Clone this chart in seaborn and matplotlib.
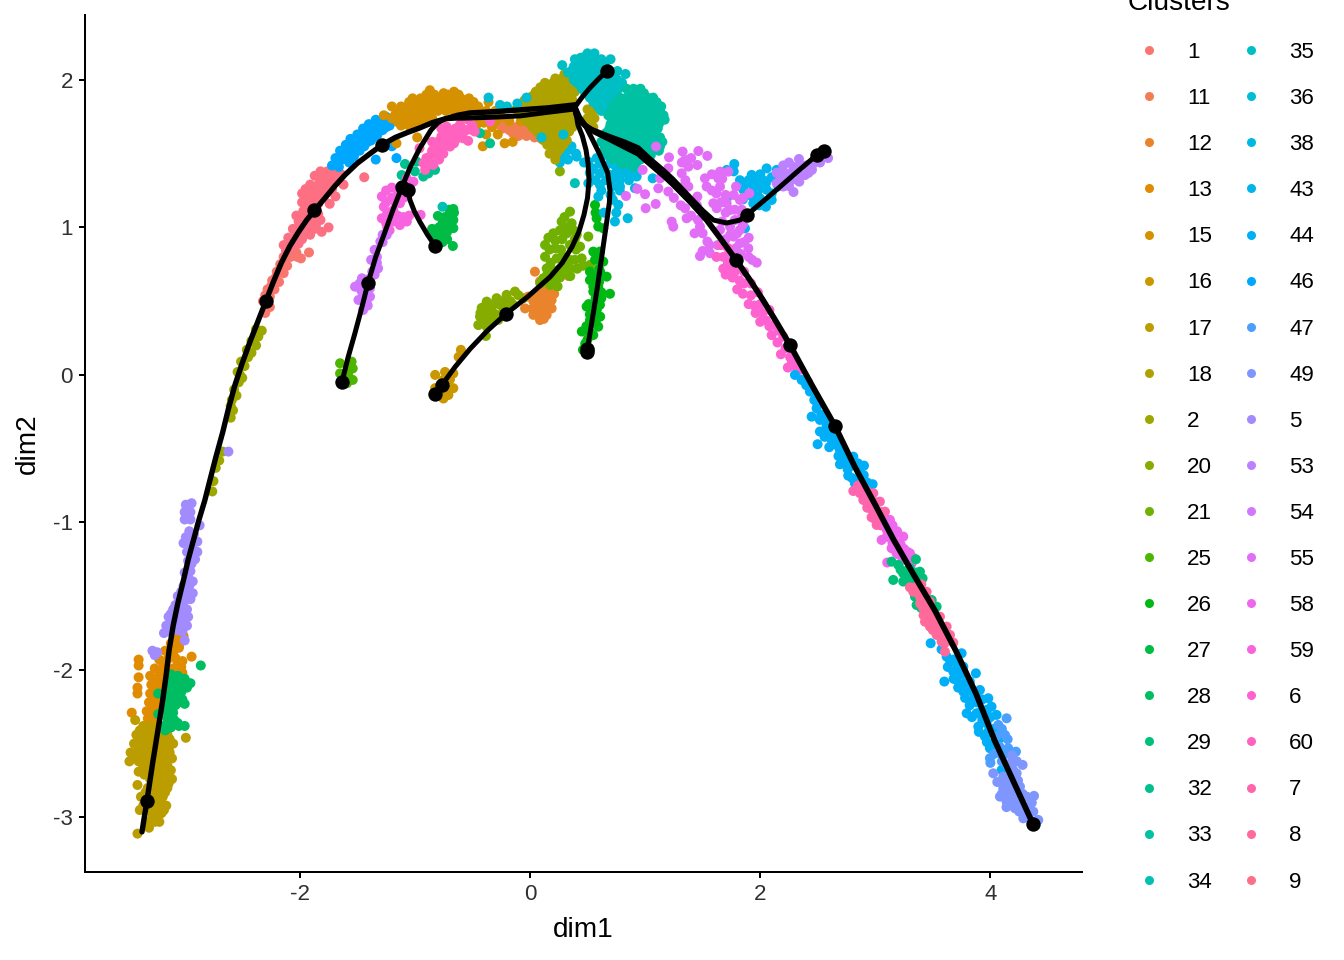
import numpy as np
import pandas as pd
import seaborn as sns
import matplotlib
matplotlib.use("Agg")
import matplotlib.pyplot as plt
from matplotlib.lines import Line2D

levels = ["1", "11", "12", "13", "15", "16", "17", "18", "2", "20", "21", "25", "26", "27", "28", "29", "32", "33", "34",
          "35", "36", "38", "43", "44", "46", "47", "49", "5", "53", "54", "55", "58", "59", "6", "60", "7", "8", "9"]

# cells per cluster as (dim1, dim2)
c1 = [(-2.30,.42),(-2.26,.46),(-2.32,.50),(-2.26,.53),(-2.28,.58),(-2.22,.58),(-2.24,.64),(-2.18,.63),(-2.20,.70),(-2.14,.69),
      (-2.17,.75),(-2.11,.74),(-2.14,.80),(-2.08,.80),(-2.02,.80),(-1.99,.79),(-1.92,.83),(-2.11,.86),(-2.05,.86),
      (-2.28,.47),(-2.30,.54),(-2.25,.60),(-2.21,.66),(-2.17,.72),(-2.13,.77),(-2.09,.83),(-2.03,.83)]
c11 = [(-.18,1.66),(-.12,1.68),(-.06,1.67),(0,1.66),(.06,1.66),(-.10,1.62),(-.03,1.62),(.04,1.61),(.10,1.60),(.16,1.59),
       (-.30,1.70),(.22,1.56),(.13,1.65),(.27,1.53),(-.24,1.67),(-.15,1.64),(-.08,1.65),(-.01,1.64),(.06,1.63),(.13,1.62),(.19,1.61),(-.2,1.7),(-.26,1.72)]
c12 = [(.043,.70),(.333,.671),(.087,.634),(.203,.599),(.145,.565),(.058,.531),(-.014,.531),(.188,.507),(.101,.497),(.029,.451),
       (.188,.451),(.101,.429),(.029,.407),(.145,.407),(.087,.372),(-.043,.451),(.174,.54),(.13,.6),(.17,.6),(.1,.55),(.14,.5),
       (.05,.47),(.15,.46),(.06,.5),(.03,.5),(.08,.44),(.12,.38),(.21,.55)]
c13 = [(-3.06,-1.78),(-3.12,-1.82),(-3.05,-1.85),(-3.17,-1.87),(-3.10,-1.88),(-3.22,-1.93),(-3.15,-1.93),(-3.08,-1.92),(-3.26,-1.99),
       (-3.18,-1.98),(-3.10,-1.99),(-3.03,-1.98),(-3.30,-2.04),(-3.22,-2.04),(-3.14,-2.05),(-3.06,-2.05),(-3.29,-2.10),(-3.22,-2.10),
       (-3.14,-2.11),(-3.07,-2.10),(-3.30,-2.16),(-3.23,-2.16),(-3.16,-2.17),(-3.31,-2.22),(-3.25,-2.22),(-3.18,-2.23),(-3.33,-2.28),
       (-3.27,-2.28),(-3.21,-2.28),(-3.32,-2.33),(-3.26,-2.34),(-3.40,-1.93),(-3.40,-1.97),(-3.40,-2.05),(-3.41,-2.12),(-3.41,-2.16),
       (-3.46,-2.29),(-3.01,-1.77),(-3.05,-1.84),(-2.94,-1.91),(-3.02,-1.94),(-3.02,-2.02),(-3.09,-1.84),(-3.13,-1.90),(-3.19,-1.95),
       (-3.06,-1.95),(-3.13,-2.01),(-3.2,-2.01),(-3.27,-2.07),(-3.19,-2.07),(-3.11,-2.08),(-3.26,-2.13),(-3.18,-2.13),(-3.27,-2.19),
       (-3.2,-2.19),(-3.28,-2.25),(-3.22,-2.25)]
c15 = [(-.90,1.90),(-.83,1.90),(-.71,1.90),(-.62,1.90),(-1.05,1.85),(-.98,1.85),(-.91,1.85),(-.84,1.85),(-.77,1.85),(-.70,1.85),
       (-.63,1.85),(-.56,1.85),(-.49,1.85),(-.36,1.85),(-1.20,1.82),(-1.12,1.82),(-1.27,1.76),(-1.15,1.79),(-1.08,1.79),(-1.01,1.79),
       (-.94,1.79),(-.87,1.79),(-.80,1.79),(-.73,1.79),(-.66,1.79),(-.59,1.79),(-.52,1.79),(-.45,1.79),(-.38,1.79),(-.30,1.79),
       (-1.20,1.74),(-1.13,1.74),(-1.06,1.74),(-.99,1.74),(-.92,1.74),(-.85,1.74),(-1.12,1.69),(-1.05,1.69),(-.98,1.69),(-.98,1.61),
       (-1.16,1.57),(-.41,1.55),(-.22,1.57),(-.15,1.58),(-.33,1.68),(-.28,1.63),(-.38,1.63),(-.50,1.66),(-.60,1.68),(-.18,1.72),(-.08,1.72),
       (-.87,1.93),(-.75,1.91),(-.66,1.92),(-.80,1.88),(-.94,1.82),(-.87,1.82),(-.80,1.82),(-.73,1.82),(-.66,1.82),(-.59,1.82),(-.52,1.82),
       (-.45,1.82),(-1.05,1.82),(-.44,1.75),(-.58,1.75),(-.35,1.74),(-.25,1.75),(-.46,1.70),(-.40,1.71),(-.30,1.72),
       (-1.02,1.875),(-.95,1.875),(-.88,1.875),(-.74,1.875),(-.67,1.875),(-.60,1.875),(-.53,1.875),(-1.17,1.765),(-1.10,1.765),(-1.03,1.765),
       (-.96,1.765),(-.89,1.765),(-1.15,1.715),(-1.08,1.715),(-1.02,1.715),(-.95,1.715),(-.88,1.715)]
c16 = [(-.6,.17),(-.62,.122),(-.824,0),(-.738,.02),(-.666,.01),(-.695,-.03),(-.666,-.09),(-.709,-.136),(-.752,-.16),(-.781,-.125),
       (-.824,-.09),(-.752,-.034)]
c17 = [(-3.36,-2.38),(-3.30,-2.38),(-3.24,-2.38),(-3.43,-2.34),(-3.42,-2.44),(-3.36,-2.44),(-3.29,-2.44),(-3.22,-2.44),(-3.15,-2.44),
       (-2.99,-2.46),(-3.44,-2.50),(-3.37,-2.50),(-3.31,-2.50),(-3.24,-2.50),(-3.16,-2.50),(-3.10,-2.50),(-3.47,-2.56),(-3.41,-2.56),
       (-3.34,-2.56),(-3.27,-2.56),(-3.20,-2.56),(-3.13,-2.56),(-3.48,-2.62),(-3.40,-2.62),(-3.33,-2.62),(-3.26,-2.62),(-3.19,-2.62),
       (-3.11,-2.60),(-3.40,-2.69),(-3.32,-2.68),(-3.25,-2.68),(-3.18,-2.68),(-3.12,-2.68),(-3.30,-2.74),(-3.24,-2.74),(-3.17,-2.74),
       (-3.11,-2.74),(-3.41,-2.78),(-3.32,-2.80),(-3.27,-2.80),(-3.22,-2.80),(-3.15,-2.80),(-3.38,-2.86),(-3.31,-2.86),(-3.25,-2.86),
       (-3.19,-2.86),(-3.36,-2.92),(-3.27,-2.92),(-3.21,-2.92),(-3.16,-2.92),(-3.39,-2.95),(-3.28,-2.98),(-3.22,-2.98),(-3.20,-2.97),
       (-3.31,-3.03),(-3.26,-3.03),(-3.22,-3.03),(-3.31,-3.07),(-3.41,-3.11),(-3.39,-2.41),(-3.33,-2.41),(-3.26,-2.41),(-3.19,-2.41),
       (-3.40,-2.47),(-3.33,-2.47),(-3.26,-2.47),(-3.19,-2.47),(-3.13,-2.47),(-3.40,-2.53),(-3.34,-2.53),(-3.27,-2.53),(-3.20,-2.53),(-3.14,-2.53),
       (-3.44,-2.59),(-3.37,-2.59),(-3.30,-2.59),(-3.23,-2.59),(-3.16,-2.59),(-3.36,-2.65),(-3.29,-2.65),(-3.22,-2.65),(-3.15,-2.65),
       (-3.35,-2.71),(-3.28,-2.71),(-3.21,-2.71),(-3.14,-2.71),(-3.27,-2.77),(-3.20,-2.77),(-3.14,-2.77),(-3.34,-2.83),(-3.28,-2.83),(-3.22,-2.83),
       (-3.17,-2.83),(-3.33,-2.89),(-3.27,-2.89),(-3.21,-2.89),(-3.29,-2.95),(-3.24,-2.95),(-3.18,-2.95),(-3.28,-3.0),(-3.24,-3.0)]
c18 = [(.30,2.04),(.13,1.98),(.20,1.98),(.27,1.98),(.33,1.98),(.05,1.92),(.12,1.92),(.19,1.92),(.26,1.92),(.33,1.92),(.39,1.92),
       (-.05,1.86),(.02,1.86),(.09,1.86),(.16,1.86),(.23,1.86),(.30,1.86),(.37,1.86),(-.12,1.80),(-.05,1.80),(.02,1.80),(.09,1.80),
       (.16,1.80),(.23,1.80),(.30,1.80),(.37,1.80),(.50,1.80),(.56,1.80),(-.05,1.74),(.02,1.74),(.09,1.74),(.16,1.74),(.23,1.74),
       (.30,1.74),(.37,1.74),(.50,1.74),(.56,1.74),(.02,1.68),(.09,1.68),(.16,1.68),(.23,1.68),(.30,1.68),(.37,1.68),(.55,1.68),
       (.09,1.62),(.15,1.62),(.22,1.62),(.29,1.62),(.15,1.56),(.22,1.56),(.29,1.56),(.17,1.50),(.23,1.50),(.22,1.46),
       (.22,2.01),(.28,2.01),(.33,2.02),(.09,1.95),(.16,1.95),(.23,1.95),(.30,1.95),(.36,1.95),(.02,1.89),(.09,1.89),(.16,1.89),(.23,1.89),
       (.30,1.89),(.36,1.89),(-.08,1.83),(-.01,1.83),(.06,1.83),(.13,1.83),(.20,1.83),(.27,1.83),(.34,1.83),(-.08,1.77),(-.01,1.77),(.06,1.77),
       (.13,1.77),(.20,1.77),(.27,1.77),(.34,1.77),(.53,1.77),(-.01,1.71),(.06,1.71),(.13,1.71),(.20,1.71),(.27,1.71),(.34,1.71),(.53,1.71),
       (.06,1.65),(.13,1.65),(.20,1.65),(.27,1.65),(.34,1.65),(.12,1.59),(.19,1.59),(.26,1.59),(.32,1.59),(.2,1.53),(.26,1.53)]
c2 = [(-2.67,-.52),(-2.70,-.58),(-2.73,-.63),(-2.75,-.72),(-2.76,-.79),(-2.60,-.29),(-2.58,-.24),(-2.60,-.21),(-2.55,-.14),(-2.57,-.10),
      (-2.53,-.05),(-2.50,-.02),(-2.54,.02),(-2.48,.06),(-2.51,.09),(-2.45,.12),(-2.42,.15),(-2.46,.17),(-2.38,.20),(-2.42,.23),
      (-2.36,.26),(-2.33,.30),(-2.38,.31),(-2.59,-.17),(-2.52,0)]
c20 = [(-.13,.565),(-.203,.543),(-.29,.52),(-.058,.52),(-.376,.497),(-.26,.475),(-.145,.475),(-.42,.454),(-.333,.44),(-.232,.43),
       (-.434,.395),(-.347,.384),(-.275,.373),(-.449,.338),(-.376,.327),(-.383,.264),(.26,1.38),(-.1,.54),(-.17,.5),(-.24,.5),(-.32,.48),
       (-.4,.46),(-.38,.42),(-.3,.41),(-.41,.36),(-.32,.36),(-.4,.4),(-.2,.46),(-.43,.42)]
c21 = [(.348,1.107),(.275,1.04),(.362,1.028),(.203,.96),(.319,.96),(.406,.949),(.131,.881),(.218,.859),(.348,.881),(.435,.87),
       (.131,.801),(.232,.79),(.348,.779),(.449,.79),(.521,.746),(.145,.722),(.246,.711),(.348,.722),(.116,.655),(.203,.655),
       (.29,.689),(.174,.61),(.507,.938),(.3,1.07),(.33,1.0),(.26,.98),(.38,.98),(.28,.92),(.22,.91),(.16,.93),(.39,.92),(.17,.85),
       (.27,.85),(.4,.85),(.18,.76),(.29,.8),(.39,.78),(.18,.72),(.3,.75),(.41,.72),(.26,.66),(.15,.68),(.35,.67),(.09,.62),(.22,.7),(.24,.6),(.46,.74)]
c25 = [(-1.65,.079),(-1.55,.09),(-1.54,.044),(-1.65,.01),(-1.58,.01),(-1.54,-.034),(-1.59,-.056),(.027,.451)]
c26 = [(.579,1.062),(.565,1.152),(.593,1.006),(.637,.994),(.55,.836),(.608,.836),(.565,.78),(.637,.768),(.521,.70),(.579,.666),
       (.666,.666),(.521,.643),(.593,.598),(.695,.55),(.55,.565),(.492,.463),(.608,.475),(.55,.418),(.61,.395),(.521,.37),(.593,.327),
       (.45,.294),(.55,.27),(.48,.212),(.52,.17),(.46,.17),(.57,1.1),(.59,.8),(.6,.72),(.54,.67),(.6,.63),(.55,.6),(.62,.56),(.57,.52),
       (.62,.52),(.51,.48),(.58,.44),(.52,.41),(.57,.36),(.49,.33),(.52,.29),(.5,.24),(.58,.8),(.61,.7)]
c27 = [(-.666,1.125),(-.80,1.078),(-.70,1.085),(-.76,1.03),(-.666,1.05),(-.85,.99),(-.753,.973),(-.666,.995),(-.82,.94),(-.753,.94),
       (-.67,.874),(-.81,.89),(-.72,1.03),(-.72,.97),(-.79,1.0),(-.72,.92),(-.76,.9),(-.7,1.12),(-.74,1.07),(-.66,1.10),(-.84,.95),(-.79,.92)]
c28 = [(-2.86,-1.97),(-3.12,-2.03),(-3.06,-2.04),(-3.00,-2.06),(-3.14,-2.09),(-3.08,-2.09),(-3.01,-2.10),(-2.95,-2.09),(-3.15,-2.13),
       (-3.09,-2.14),(-3.03,-2.15),(-3.23,-2.16),(-3.14,-2.18),(-3.08,-2.19),(-3.02,-2.20),(-3.14,-2.23),(-3.08,-2.24),(-3.00,-2.23),
       (-3.23,-2.30),(-3.16,-2.28),(-3.10,-2.29),(-3.15,-2.33),(-3.09,-2.34),(-3.18,-2.38),(-3.12,-2.39),(-3.05,-2.38),(-3.00,-2.38),(-3.17,-2.41),
       (-3.1,-2.06),(-3.04,-2.07),(-3.11,-2.11),(-3.05,-2.12),(-2.98,-2.12),(-3.11,-2.16),(-3.05,-2.17),(-3.11,-2.21),(-3.05,-2.22),(-3.11,-2.26),
       (-3.13,-2.31),(-3.12,-2.36),(-3.06,-2.36),(-3.15,-2.36)]
c29 = [(3.156,-1.39),(3.142,-1.266),(3.2,-1.288),(3.353,-1.25),(3.243,-1.345),(3.243,-1.401),(3.287,-1.367),(3.388,-1.334),(3.411,-1.379),
       (3.345,-1.503),(3.359,-1.56),(3.533,-1.571),(3.49,-1.526),(3.3,-1.31),(3.27,-1.33),(3.35,-1.34),(3.3,-1.4),(3.38,-1.39),(3.37,-1.52),
       (3.4,-1.58),(3.45,-1.52),(3.22,-1.32)]
c32 = [(-1.086,1.43),(-1.115,1.355),(-.985,1.446),(-.927,1.345),(-.825,1.39),(-.883,1.366),(-1.0,1.38),(-.434,1.639),(-.347,1.57)]
c33 = [(.84,1.94),(.90,1.94),(.96,1.94),(.78,1.88),(.84,1.88),(.90,1.88),(.96,1.88),(1.02,1.88),(1.07,1.88),(.72,1.82),(.78,1.82),
       (.84,1.82),(.90,1.82),(.96,1.82),(1.02,1.82),(1.08,1.82),(1.14,1.82),(.68,1.76),(.74,1.76),(.80,1.76),(.86,1.76),(.92,1.76),
       (.98,1.76),(1.04,1.76),(1.10,1.76),(1.16,1.76),(.70,1.70),(.76,1.70),(.82,1.70),(.88,1.70),(.94,1.70),(1.00,1.70),(1.06,1.70),
       (1.12,1.70),(.66,1.64),(.72,1.64),(.78,1.64),(.84,1.64),(.90,1.64),(.96,1.64),(1.02,1.64),(1.08,1.64),(.62,1.58),(.68,1.58),
       (.74,1.58),(.80,1.58),(.86,1.58),(.92,1.58),(.98,1.58),(1.04,1.58),(1.10,1.58),(1.15,1.58),(.64,1.52),(.70,1.52),(.76,1.52),
       (.82,1.52),(.88,1.52),(.94,1.52),(1.00,1.52),(1.06,1.52),(1.12,1.52),(.72,1.46),(.78,1.46),(.84,1.46),(.90,1.46),(.96,1.46),(.90,1.41),
       (.87,1.91),(.93,1.91),(.99,1.91),(.75,1.85),(.81,1.85),(.87,1.85),(.93,1.85),(.99,1.85),(1.05,1.85),(1.1,1.85),(.71,1.79),(.77,1.79),
       (.83,1.79),(.89,1.79),(.95,1.79),(1.01,1.79),(1.07,1.79),(1.13,1.79),(.71,1.73),(.77,1.73),(.83,1.73),(.89,1.73),(.95,1.73),(1.01,1.73),
       (1.07,1.73),(1.13,1.73),(1.17,1.73),(.69,1.67),(.75,1.67),(.81,1.67),(.87,1.67),(.93,1.67),(.99,1.67),(1.05,1.67),(1.11,1.67),(.65,1.61),
       (.71,1.61),(.77,1.61),(.83,1.61),(.89,1.61),(.95,1.61),(1.01,1.61),(1.07,1.61),(1.13,1.61),(.65,1.55),(.71,1.55),(.77,1.55),(.83,1.55),
       (.89,1.55),(.95,1.55),(1.01,1.55),(1.07,1.55),(1.13,1.55),(.69,1.49),(.75,1.49),(.81,1.49),(.87,1.49),(.93,1.49),(.99,1.49),(1.05,1.49),
       (.8,1.43),(.86,1.43),(.92,1.43)]
c34 = [(-.76,1.14),(.39,1.30)]
c35 = [(.50,2.18),(.56,2.18),(.44,2.15),(.39,2.14),(.50,2.13),(.56,2.13),(.62,2.14),(.70,2.14),(.28,2.10),(.38,2.09),(.44,2.09),(.50,2.08),
       (.56,2.08),(.62,2.09),(.33,2.05),(.39,2.04),(.45,2.03),(.52,2.03),(.58,2.03),(.64,2.03),(.72,2.05),(.83,2.04),(.41,1.98),(.47,1.97),
       (.54,1.97),(.60,1.97),(.66,1.98),(.73,1.99),(.80,1.98),(.48,1.91),(.55,1.91),(.61,1.91),(.67,1.92),(.74,1.93),(.55,1.85),(.62,1.85),
       (.68,1.86),(.74,1.87),(.62,1.79),(.68,1.80),(.74,1.80),(.53,2.155),(.47,2.155),(.41,2.11),(.47,2.11),(.53,2.11),(.59,2.11),(.65,2.11),
       (.36,2.06),(.42,2.06),(.48,2.06),(.54,2.06),(.60,2.06),(.66,2.06),(.76,2.06),(.38,2.0),(.44,2.0),(.50,2.0),(.56,2.0),(.62,2.0),(.68,2.0),
       (.76,2.0),(.45,1.94),(.51,1.94),(.58,1.94),(.64,1.94),(.70,1.94),(.77,1.94),(.52,1.88),(.58,1.88),(.65,1.88),(.71,1.88),(.77,1.88),
       (.59,1.82),(.65,1.82),(.71,1.82)]
c36 = [(-.36,1.88),(-.26,1.83),(-.20,1.82),(-.11,1.84),(-.03,1.88),(.10,1.61),(.29,1.63)]
c38 = [(.333,1.525),(.406,1.48),(.29,1.491),(.507,1.446),(.608,1.435),(.695,1.435),(.753,1.378),(.84,1.367),(.927,1.345),(.912,1.266),
       (.782,1.277),(.71,1.277),(.608,1.288),(.594,1.209),(.507,1.299),(.767,1.153),(.738,1.04),(.643,1.10),(.849,1.062),(1.066,1.333),
       (.608,1.367),(.695,1.356),(.782,1.322),(.666,1.491),(.898,1.412),(.811,1.424),(.72,1.187),(.36,1.69),(.26,1.44),(.36,1.55),(.40,1.50),
       (.33,1.46),(.55,1.40),(.65,1.4),(.74,1.42),(.78,1.38),(.66,1.32),(.74,1.33),(.62,1.25),(.7,1.22),(.78,1.25),(.86,1.32),(.9,1.37),
       (.84,1.41),(.57,1.32),(.58,1.47),(.47,1.44),(.75,1.1),(.52,1.37)]
c43 = [(1.775,1.43),(1.71,1.39),(1.824,1.32),(1.926,1.356),(2.056,1.40),(2.143,1.39),(2.027,1.32),(1.94,1.278),(1.854,1.255),(2.056,1.255),
       (2.157,1.278),(1.998,1.197),(2.10,1.186),(1.94,1.163),(1.868,.994),(1.71,1.197),(2.0,1.36),(2.1,1.34),(1.88,1.3),(1.98,1.25),(2.05,1.3),
       (1.93,1.21),(1.9,1.32),(2.0,1.28),(2.1,1.23),(2.18,1.33),(1.95,1.32),(1.85,1.19),(1.99,1.15),(2.05,1.14),(1.77,1.38)]
c44 = [(2.302,0),(2.36,-.034),(2.432,-.113),(2.49,-.226),(2.447,-.283),(2.519,-.305),(2.519,-.384),(2.577,-.35),(2.499,-.47),(2.62,-.441),
       (2.693,-.509),(2.693,-.606),(2.809,-.554),(2.765,-.683),(2.902,-.615),(2.867,-.656),(2.977,-.741),(2.823,-.735),(2.722,-.588),
       (2.664,-.475),(3.481,-1.819),(3.576,-1.86),(3.75,-1.887),(3.62,-1.91),(3.707,-1.955),(3.765,-1.978),(3.678,-2.012),(3.874,-2.023),
       (3.6,-2.079),(3.707,-2.068),(3.822,-2.079),(3.765,-2.147),(3.909,-2.136),(3.851,-2.204),(3.982,-2.192),(3.794,-2.294),(3.88,-2.294),
       (4.01,-2.249),(4.054,-2.305),(3.895,-2.384),(3.967,-2.362),(3.953,-2.452),(4.083,-2.463),(3.996,-2.531),(4.098,-2.678),
       (2.4,-.07),(2.47,-.17),(2.53,-.27),(2.56,-.31),(2.6,-.38),(2.56,-.42),(2.6,-.49),(2.66,-.42),(2.68,-.55),(2.72,-.5),(2.74,-.55),(2.78,-.62),
       (2.8,-.7),(2.86,-.72),(2.76,-.64),(2.85,-.6),(2.9,-.68),(2.93,-.73),(2.78,-.58),(3.65,-1.94),(3.68,-1.93),(3.63,-1.98),(3.72,-2.02),
       (3.75,-2.03),(3.68,-2.06),(3.78,-2.09),(3.72,-2.12),(3.83,-2.14),(3.78,-2.19),(3.85,-2.15),(3.88,-2.22),(3.93,-2.2),(3.82,-2.24),
       (3.92,-2.28),(3.97,-2.27),(3.84,-2.32),(3.93,-2.34),(4.0,-2.32),(3.9,-2.42),(3.98,-2.42),(4.03,-2.4),(4.03,-2.5),(3.97,-2.49)]
c46 = [(-1.72,1.42),(-1.66,1.41),(-1.69,1.47),(-1.63,1.46),(-1.57,1.44),(-1.65,1.52),(-1.59,1.50),(-1.53,1.48),(-1.60,1.56),(-1.54,1.54),
       (-1.48,1.52),(-1.56,1.60),(-1.50,1.58),(-1.44,1.55),(-1.50,1.63),(-1.44,1.61),(-1.38,1.59),(-1.45,1.67),(-1.39,1.65),(-1.33,1.62),
       (-1.40,1.70),(-1.34,1.69),(-1.28,1.66),(-1.34,1.73),(-1.28,1.72),(-1.22,1.69),(-1.25,1.75),(-1.19,1.72),(-1.34,1.46),(-1.16,1.47),(-1.20,1.55),
       (-1.62,1.49),(-1.56,1.47),(-1.58,1.53),(-1.52,1.51),(-1.53,1.57),(-1.47,1.55),(-1.47,1.60),(-1.41,1.58),(-1.42,1.64),(-1.36,1.61),
       (-1.37,1.68),(-1.31,1.65),(-1.30,1.69),(-1.25,1.68)]
c47 = [(4.069,-2.373),(4.141,-2.328),(4.127,-2.441),(4.155,-2.531),(4.222,-2.554),(3.996,-2.599),(4.083,-2.565),(4.1,-2.4),(4.05,-2.45),
       (4.08,-2.52),(4.15,-2.47),(4.03,-2.57),(4.13,-2.57),(4.0,-2.63),(4.1,-2.62)]
c49 = [(4.025,-2.701),(4.185,-2.622),(4.28,-2.644),(4.112,-2.723),(4.228,-2.701),(4.083,-2.859),(4.155,-2.791),(4.257,-2.791),(4.199,-2.859),
       (4.315,-2.859),(4.379,-2.854),(4.141,-2.893),(4.213,-2.938),(4.315,-2.927),(4.373,-2.961),(4.416,-3.017),(4.286,-3.006),(4.112,-2.803),
       (4.15,-2.65),(4.2,-2.68),(4.12,-2.76),(4.18,-2.74),(4.24,-2.75),(4.1,-2.84),(4.16,-2.84),(4.22,-2.82),(4.28,-2.84),(4.14,-2.93),
       (4.2,-2.9),(4.26,-2.9),(4.3,-2.95),(4.25,-2.96),(4.33,-3.0),(4.37,-3.03),(4.36,-2.9),(4.06,-2.76),(4.23,-2.62),(4.19,-2.58)]
c5 = [(-2.62,-.52),(-2.99,-.88),(-2.94,-.87),(-3.00,-.93),(-2.95,-.93),(-3.00,-.98),(-2.95,-.98),(-2.87,-1.02),(-2.96,-1.06),(-3.01,-1.14),
      (-2.95,-1.14),(-2.89,-1.13),(-2.98,-1.20),(-2.92,-1.19),(-2.89,-1.20),(-2.97,-1.26),(-2.91,-1.25),(-3.00,-1.34),(-2.95,-1.33),(-2.93,-1.40),
      (-2.99,-1.40),(-3.03,-1.47),(-2.97,-1.46),(-2.93,-1.48),(-3.05,-1.53),(-3.00,-1.53),(-2.95,-1.52),(-3.10,-1.59),(-3.04,-1.59),(-2.98,-1.59),
      (-3.14,-1.64),(-3.08,-1.65),(-3.02,-1.65),(-2.97,-1.64),(-3.16,-1.70),(-3.10,-1.70),(-3.04,-1.71),(-2.98,-1.70),(-3.18,-1.75),(-3.13,-1.74),
      (-3.00,-1.80),(-3.28,-1.87),(-3.24,-1.88),(-3.26,-1.90),(-2.97,-.90),(-2.92,-1.08),(-2.99,-1.10),(-2.94,-1.28),(-2.97,-1.37),(-3.01,-1.43),
      (-2.96,-1.43),(-3.06,-1.50),(-3.01,-1.50),(-2.97,-1.50),(-3.08,-1.56),(-3.02,-1.56),(-3.12,-1.62),(-3.06,-1.62),(-3.00,-1.62),(-3.12,-1.67),
      (-3.06,-1.68),(-3.00,-1.68),(-3.15,-1.72),(-3.07,-1.73),(-3.02,-1.74)]
c53 = [(2.337,1.464),(2.2,1.42),(2.29,1.41),(2.40,1.42),(2.59,1.47),(2.5,1.48),(2.143,1.30),(2.23,1.34),(2.33,1.367),(2.29,1.24),(2.2,1.277),
       (2.39,1.355),(2.45,1.39),(2.48,1.445),(2.143,1.37),(2.27,1.37),(2.2,1.38),(2.25,1.28),(2.34,1.31),(2.42,1.37),(2.18,1.33),(2.45,1.42),
       (2.36,1.42),(2.27,1.32),(2.25,1.44),(2.52,1.44)]
c54 = [(-1.245,.949),(-1.30,.904),(-1.35,.848),(-1.38,.78),(-1.32,.722),(-1.35,.68),(-1.46,.655),(-1.52,.598),(-1.46,.565),(-1.39,.588),
       (-1.49,.508),(-1.42,.497),(-1.45,.44),(-1.39,.531),(-1.48,.62),(-1.28,.9),(-1.33,.8),(-1.37,.7),(-1.42,.62),(-1.44,.6),(-1.47,.58),
       (-1.42,.55),(-1.45,.52),(-1.41,.47),(-1.4,.65),(-1.33,.76),(-1.28,.95)]
c55 = [(1.095,1.548),(1.326,1.514),(1.463,1.518),(1.541,1.485),(1.208,1.475),(1.347,1.457),(1.454,1.423),(1.376,1.412),(.979,1.39),(1.202,1.401),
       (1.318,1.367),(1.651,1.378),(1.723,1.378),(1.52,1.333),(1.636,1.333),(1.13,1.333),(1.115,1.265),(1.202,1.243),(1.376,1.277),(1.535,1.277),
       (1.651,1.277),(1.79,1.277),(1.906,1.231),(.834,1.213),(.933,1.261),(1.0,1.225),(1.092,1.159),(1.005,1.13),(1.454,1.209),(1.347,1.13),
       (1.593,1.164),(1.709,1.164),(1.824,1.186),(1.622,1.13),(1.738,1.118),(1.361,1.062),(1.231,1.039),(1.245,1.005),(1.477,1.005),(1.541,.904),
       (1.477,.806),(1.564,.825),(1.651,.983),(1.824,.983),(1.897,.858),(1.97,.761),(1.767,.938),(1.738,1.005),(1.839,1.073),(1.738,.825),(1.824,.892),
       (1.62,1.23),(1.7,1.22),(1.77,1.22),(1.85,1.2),(1.66,1.17),(1.78,1.12),(1.84,1.12),(1.7,1.1),(1.78,1.05),(1.67,1.04),(1.85,1.02),(1.74,.95),
       (1.8,.96),(1.7,.92),(1.63,.88),(1.79,.86),(1.86,.9),(1.9,.93),(1.35,1.32),(1.3,1.27),(1.25,1.2),(1.31,1.15),(1.45,1.15),(1.4,1.08),(1.46,1.05),
       (1.5,.96),(1.32,1.44),(1.4,1.47),(1.58,1.36),(1.58,1.25),(1.67,1.33),(1.43,.96),(1.56,.88),(1.5,.84),(1.9,.8),(1.83,.82),(1.93,.78)]
c58 = [(3.127,-.983),(3.055,-1.119),(3.1,-1.096),(3.243,-1.096),(3.142,-1.175),(3.2,-1.141),(3.301,-1.209),(3.185,-1.209),(3.243,-1.254),
       (3.104,-1.272),(3.316,-1.277),(3.15,-1.02),(3.12,-1.1),(3.17,-1.08),(3.22,-1.15),(3.15,-1.14),(3.25,-1.18),(3.21,-1.22),(3.27,-1.25),
       (3.19,-1.06),(3.09,-1.03),(3.28,-1.2),(3.33,-1.24)]
c59 = [(-1.071,1.333),(-1.013,1.31),(-1.2,1.27),(-1.287,1.21),(-1.2,1.20),(-1.13,1.164),(-1.27,1.14),(-1.187,1.117),(-1.287,1.062),(-1.1,1.07),
       (-1.187,1.04),(-1.13,1.016),(-1.07,1.04),(-.95,1.085),(-1.22,.98),(-1.25,1.17),(-1.24,1.1),(-1.25,1.25),(-1.17,1.17),(-1.15,1.25),(-1.25,1.03),
       (-1.1,1.2),(-1.15,1.08),(-1.05,1.3),(-1.24,1.0),(-1.05,1.08)]
c6 = [(1.66,.88),(1.72,.86),(1.62,.80),(1.68,.80),(1.74,.72),(1.78,.70),(1.68,.72),(1.86,.70),(1.92,.62),(1.86,.62),(1.82,.64),(1.92,.54),
      (2.0,.48),(1.98,.56),(2.02,.42),(2.08,.44),(2.12,.34),(2.16,.30),(2.20,.26),(2.22,.18),(2.276,.088),(2.49,-.18),(2.346,.034),(2.415,-.047),
      (1.72,.76),(1.7,.68),(1.76,.66),(1.8,.58),(1.85,.55),(1.9,.48),(1.95,.47),(1.96,.42),(2.05,.37),(2.0,.36),(2.08,.33),(2.1,.27),(2.15,.22),
      (2.18,.14),(2.26,.12),(2.24,.05),(2.3,.06)]
c60 = [(-.536,1.729),(-.345,1.718),(-.609,1.695),(-.725,1.683),(-.55,1.66),(-.67,1.637),(-.77,1.616),(-.58,1.604),(-.695,1.548),(-.537,1.587),
       (-.81,1.548),(-.87,1.48),(-.753,1.50),(-.926,1.435),(-.84,1.424),(-.911,1.39),(-.96,1.537),(-.65,1.67),(-.6,1.64),(-.7,1.60),(-.64,1.6),
       (-.74,1.56),(-.66,1.57),(-.82,1.5),(-.79,1.46),(-.88,1.43),(-.85,1.52),(-.9,1.47),(-.76,1.55),(-.71,1.65),(-.77,1.67),(-.5,1.69),(-.48,1.65),
       (-.8,1.58),(-.85,1.58)]
c7 = [(2.809,-.787),(2.867,-.802),(2.983,-.802),(3.04,-.859),(2.896,-.848),(2.954,-.904),(3.084,-.927),(2.968,-.965),(3.04,-.96),(3.113,-.983),
      (3.012,-1.017),(3.1,-1.05),(2.85,-.75),(2.92,-.78),(2.94,-.84),(2.99,-.86),(3.0,-.92),(2.9,-.8),(3.05,-.93),(3.0,-.98),(3.05,-1.02),
      (3.08,-1.0),(2.93,-.9),(2.88,-.76)]
c8 = [(3.301,-1.44),(3.359,-1.435),(3.446,-1.47),(3.388,-1.503),(3.475,-1.537),(3.417,-1.582),(3.504,-1.616),(3.432,-1.673),(3.562,-1.639),
      (3.475,-1.706),(3.62,-1.706),(3.533,-1.763),(3.649,-1.763),(3.678,-1.815),(3.576,-1.808),(3.605,-1.876),(3.33,-1.47),(3.4,-1.46),(3.44,-1.53),
      (3.39,-1.55),(3.46,-1.6),(3.42,-1.63),(3.5,-1.66),(3.46,-1.66),(3.53,-1.69),(3.55,-1.72),(3.5,-1.73),(3.57,-1.77),(3.62,-1.76),(3.6,-1.82),
      (3.65,-1.8),(3.4,-1.42)]
c9 = [(-1.82,1.38),(-1.76,1.38),(-1.70,1.37),(-1.87,1.35),(-1.81,1.33),(-1.75,1.32),(-1.69,1.31),(-1.64,1.36),(-1.44,1.34),(-1.62,1.29),
      (-1.91,1.29),(-1.85,1.28),(-1.79,1.27),(-1.72,1.26),(-1.98,1.23),(-1.92,1.23),(-1.86,1.22),(-1.79,1.21),(-1.69,1.21),(-1.98,1.17),
      (-1.92,1.17),(-1.84,1.16),(-1.74,1.16),(-2.03,1.08),(-1.97,1.11),(-1.91,1.10),(-1.84,1.09),(-2.01,1.04),(-1.95,1.04),(-1.88,1.03),
      (-1.82,1.05),(-2.06,.99),(-2.00,.98),(-1.94,.98),(-1.87,.99),(-1.75,1.00),(-1.81,.97),(-2.10,.93),(-2.04,.92),(-1.98,.92),(-2.14,.88),(-2.08,.87),
      (-1.78,1.35),(-1.72,1.34),(-1.83,1.30),(-1.77,1.30),(-1.95,1.26),(-1.89,1.26),(-1.82,1.24),(-1.76,1.24),(-1.95,1.20),(-1.89,1.20),(-1.82,1.19),
      (-1.95,1.14),(-1.88,1.13),(-1.98,1.07),(-1.92,1.07),(-1.86,1.06),(-1.98,1.01),(-1.92,1.01),(-1.86,1.01),(-2.03,.95),(-1.97,.95),(-1.91,.95),
      (-2.07,.90),(-2.01,.89),(-2.12,.84)]

# trajectory branches and graph nodes
branch_arc = [(-3.371,-3.098),(-3.328,-2.888),(-3.28,-2.64),(-3.232,-2.407),(-3.19,-2.2),(-3.16,-2.03),(-3.135,-1.864),(-3.10,-1.70),(-3.06,-1.55),
              (-3.01,-1.39),(-2.97,-1.254),(-2.92,-1.11),(-2.875,-.98),(-2.825,-.85),(-2.78,-.712),(-2.73,-.56),(-2.67,-.39),(-2.62,-.23),(-2.563,-.068),
              (-2.50,.08),(-2.43,.23),(-2.36,.37),(-2.294,.502),(-2.23,.63),(-2.16,.76),(-2.085,.875),(-2.01,.97),(-1.94,1.05),(-1.868,1.119),(-1.78,1.20),
              (-1.69,1.285),(-1.607,1.356),(-1.50,1.435),(-1.39,1.50),(-1.286,1.559),(-1.17,1.61),(-1.06,1.645),(-.956,1.675),(-.85,1.71),(-.738,1.736),
              (-.63,1.76),(-.521,1.776),(-.3,1.785),(-.087,1.797),(.15,1.81),(.391,1.831)]
branch_left = [(-1.633,-.047),(-1.58,.12),(-1.52,.285),(-1.46,.46),(-1.407,.624),(-1.34,.80),(-1.26,.969),(-1.19,1.12),(-1.112,1.275),(-1.04,1.41),
               (-.956,1.539),(-.86,1.66),(-.80,1.71),(-.738,1.736),(-.65,1.74),(-.521,1.742),(-.3,1.748),(-.087,1.756),(.15,1.78),(.391,1.803)]
branch_hook = [(-.825,.875),(-.89,.95),(-.956,1.037),(-1.005,1.11),(-1.043,1.186),(-1.06,1.254),(-1.112,1.275)]
branch_mid = [(-.825,-.129),(-.765,-.068),(-.65,.055),(-.521,.176),(-.37,.30),(-.209,.414),(-.02,.53),(.174,.664),(.28,.76),(.365,.868),(.425,.97),
              (.469,1.085),(.50,1.20),(.513,1.322),(.505,1.43),(.487,1.525),(.455,1.62),(.417,1.695),(.391,1.817)]
branch_drop = [(.495,.156),(.54,.37),(.582,.576),(.625,.81),(.669,1.051),(.69,1.17),(.695,1.254),(.675,1.37),(.608,1.492),(.54,1.60),(.478,1.695),
               (.43,1.75),(.391,1.817)]
branch_tip = [(.391,1.817),(.45,1.88),(.521,1.946),(.60,2.01),(.669,2.061)]
branch_down = [(.391,1.817),(.40,1.77),(.417,1.742),(.48,1.69),(.565,1.647),(.70,1.595),(.825,1.545),(.94,1.50),(1.043,1.43),(1.17,1.345),(1.245,1.29),
               (1.39,1.175),(1.535,1.05),(1.65,.93),(1.79,.78),(1.91,.645),(2.024,.508),(2.14,.36),(2.259,.203),(2.45,-.07),(2.65,-.346),(2.82,-.62),
               (3.0,-.881),(3.154,-1.11),(3.335,-1.356),(3.52,-1.60),(3.70,-1.87),(3.875,-2.16),(4.035,-2.475),(4.197,-2.75),(4.37,-3.044)]
branch_right = [(.391,1.817),(.42,1.73),(.52,1.67),(.68,1.62),(.82,1.58),(.94,1.54),(1.043,1.465),(1.17,1.38),(1.245,1.325),(1.39,1.205),(1.50,1.115),
                (1.593,1.05),(1.71,1.03),(1.825,1.05),(1.885,1.085),(2.03,1.18),(2.172,1.275),(2.33,1.383),(2.494,1.492),(2.554,1.519)]
nodes = [(-3.328,-2.888),(-2.294,.502),(-1.877,1.119),(-1.286,1.559),(-1.633,-.047),(-1.407,.624),(-1.112,1.275),(-1.06,1.254),(-.825,.875),
         (-.825,-.129),(-.765,-.068),(-.209,.414),(.495,.176),(.495,.156),(.669,2.061),(1.79,.78),(2.259,.203),(2.65,-.346),(1.885,1.085),
         (2.494,1.492),(2.554,1.519),(4.37,-3.044)]


def hue_pal(n):
    # same hcl wheel as the usual ggplot colours (l=65, c=100)
    colors = []
    xn, yn, zn = 0.95047, 1.0, 1.08883
    un = 4 * xn / (xn + 15 * yn + 3 * zn)
    vn = 9 * yn / (xn + 15 * yn + 3 * zn)
    m = np.array([[3.2406, -1.5372, -0.4986], [-0.9689, 1.8758, 0.0415], [0.0557, -0.2040, 1.0570]])
    for i in range(n):
        h = np.deg2rad(15 + 360 * i / n)
        u = 100 * np.cos(h) / (13 * 65) + un
        v = 100 * np.sin(h) / (13 * 65) + vn
        y = ((65 + 16) / 116) ** 3
        x = y * 9 * u / (4 * v)
        z = y * (12 - 3 * u - 20 * v) / (4 * v)
        rgb = np.clip(m @ np.array([x, y, z]), 0, 1)
        rgb = np.where(rgb <= 0.0031308, 12.92 * rgb, 1.055 * rgb ** (1 / 2.4) - 0.055)
        colors.append(tuple(rgb))
    return colors


draw_order = [("11", c11), ("1", c1), ("9", c9), ("2", c2), ("46", c46), ("15", c15), ("32", c32), ("60", c60), ("59", c59), ("54", c54),
              ("27", c27), ("34", c34), ("25", c25), ("16", c16), ("20", c20), ("12", c12), ("21", c21), ("26", c26), ("38", c38),
              ("18", c18), ("35", c35), ("33", c33), ("36", c36), ("43", c43), ("53", c53), ("55", c55), ("6", c6), ("44", c44),
              ("7", c7), ("58", c58), ("29", c29), ("8", c8), ("47", c47), ("49", c49), ("13", c13), ("17", c17), ("28", c28), ("5", c5)]
rows = []
for name, pts in draw_order:
    for px, py in pts:
        rows.append((name, px, py))
df = pd.DataFrame(rows, columns=["Clusters", "dim1", "dim2"])

sns.set_theme(style="ticks")
plt.rcParams["font.family"] = ["Liberation Sans", "DejaVu Sans"]
plt.rcParams["axes.unicode_minus"] = False

pal = hue_pal(len(levels))
fig = plt.figure(figsize=(1344 / 144, 960 / 144), dpi=144)
ax = fig.add_axes([85 / 1344, 88 / 960, 997 / 1344, 857 / 960])

sns.scatterplot(data=df, x="dim1", y="dim2", hue="Clusters", hue_order=levels, palette=pal, s=25, linewidth=0, legend=False, ax=ax)

for branch, lw in [(branch_arc, 2.7), (branch_left, 2.5), (branch_hook, 2.5), (branch_mid, 2.5), (branch_drop, 2.5), (branch_tip, 2.5),
                   (branch_down, 2.9), (branch_right, 2.5)]:
    line = pd.DataFrame(branch, columns=["dim1", "dim2"])
    sns.lineplot(data=line, x="dim1", y="dim2", sort=False, estimator=None, color="black", linewidth=lw, ax=ax)

node_df = pd.DataFrame(nodes, columns=["dim1", "dim2"])
sns.scatterplot(data=node_df, x="dim1", y="dim2", color="black", s=52, linewidth=0, zorder=5, ax=ax)

ax.set_xlim(-3.866, 4.796)
ax.set_ylim(-3.37, 2.44)
ax.set_xticks([-2, 0, 2, 4])
ax.set_yticks([-3, -2, -1, 0, 1, 2])
ax.set_xlabel("dim1", fontsize=14, color="black", labelpad=6)
ax.set_ylabel("dim2", fontsize=14, color="black", labelpad=6)
ax.tick_params(labelsize=11.2, colors="#303030", length=3, width=1, color="black", pad=3)
sns.despine(ax=ax)
for side in ["left", "bottom"]:
    ax.spines[side].set_linewidth(1)
    ax.spines[side].set_color("black")

handles = [Line2D([], [], marker="o", linestyle="", color=c, markersize=4.5, markeredgewidth=0) for c in pal]
fig.legend(handles, levels, ncol=2, frameon=False, fontsize=11.2, loc="upper left", bbox_to_anchor=(1131 / 1344, 1 - 42 / 960),
           bbox_transform=fig.transFigure, borderaxespad=0, borderpad=0, labelspacing=1.12, handlelength=1.6, handletextpad=0.9,
           columnspacing=0.95, labelcolor="black")
fig.text(1128 / 1344, 1 - 3 / 960, "Clusters", fontsize=14, color="black", va="center", ha="left")

fig.savefig("out.png", dpi=144)
